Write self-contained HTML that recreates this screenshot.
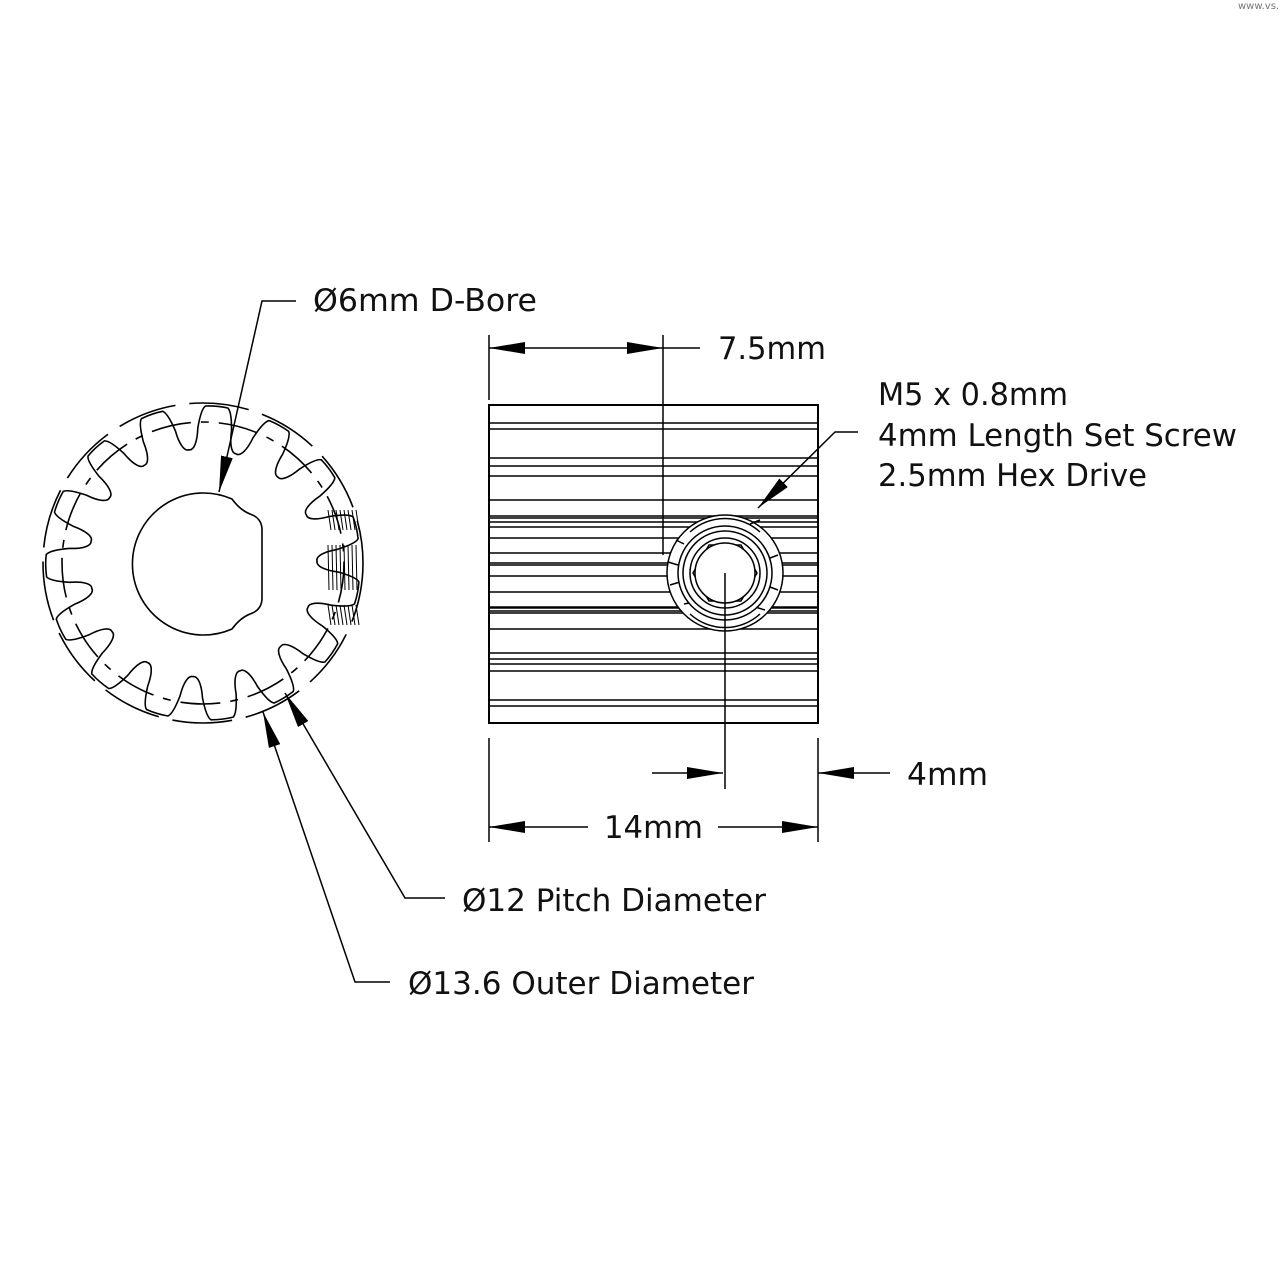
<!DOCTYPE html>
<html><head><meta charset="utf-8"><style>
html,body{margin:0;padding:0;background:#fff;}
svg{display:block;}
text{font-family:"DejaVu Sans","Liberation Sans",sans-serif;font-size:31px;fill:#111;}
</style></head><body>
<svg id="s" width="1280" height="1280" viewBox="0 0 1280 1280" xmlns="http://www.w3.org/2000/svg">
<defs>
<marker id="a" viewBox="0 0 36 12" refX="36" refY="6" markerWidth="36" markerHeight="12" markerUnits="userSpaceOnUse" orient="auto"><path d="M0,0 L36,6 L0,12 Z" fill="#000"/></marker>
</defs>
<text x="1238" y="9" style="font-size:10px;fill:#777">www.vs.1</text>
<g id="gear" fill="none" stroke="#000" stroke-width="1.6"></g>
<g fill="none" stroke="#000" stroke-width="1.5">
<rect x="489" y="405" width="329" height="318" stroke-width="2"/>
<g id="hl"></g>
<circle cx="725" cy="573" r="58" fill="#fff"/>
<path d="M676,540 l8,4 M668,562 l10,3 M670,585 l10,-3 M684,604 l10,-2 M760,520 l-10,4 M765,610 l-10,-3 M778,555 l-8,3 M778,590 l-8,-3"/>
<path d="M690,614 A52,52 0 0 0 760,614 M690,532 A52,52 0 0 1 760,532"/>
<circle cx="725" cy="573" r="47" fill="#fff"/>
<circle cx="725" cy="573" r="42"/>
<circle cx="725" cy="573" r="35"/>
<polygon points="757,573 741,545 709,545 693,573 709,601 741,601"/>
<circle cx="725" cy="573" r="30" fill="#fff"/>
</g>
<g fill="none" stroke="#000" stroke-width="1.5">
<line x1="489" y1="335" x2="489" y2="400"/>
<line x1="663" y1="335" x2="663" y2="555"/>
<line x1="575" y1="348" x2="489" y2="348" marker-end="url(#a)"/>
<line x1="575" y1="348" x2="663" y2="348" marker-end="url(#a)"/>
<line x1="663" y1="348" x2="700" y2="348"/>
<line x1="489" y1="738" x2="489" y2="842"/>
<line x1="818" y1="738" x2="818" y2="842"/>
<line x1="725" y1="573" x2="725" y2="789"/>
<line x1="588" y1="827" x2="489" y2="827" marker-end="url(#a)"/>
<line x1="718" y1="827" x2="818" y2="827" marker-end="url(#a)"/>
<line x1="652" y1="773" x2="723" y2="773" marker-end="url(#a)"/>
<line x1="890" y1="773" x2="818" y2="773" marker-end="url(#a)"/>
<polyline points="296,301 262,301 219,492" marker-end="url(#a)"/>
<polyline points="858,432 835,432 758,508" marker-end="url(#a)"/>
<polyline points="445,898 405,898 285,693" marker-end="url(#a)"/>
<polyline points="390,982 355,982 263,712" marker-end="url(#a)"/>
</g>
<text x="313" y="311" textLength="224" lengthAdjust="spacingAndGlyphs">Ø6mm D-Bore</text>
<text x="718" y="359" textLength="108" lengthAdjust="spacingAndGlyphs">7.5mm</text>
<text x="878" y="405" textLength="190" lengthAdjust="spacingAndGlyphs">M5 x 0.8mm</text>
<text x="878" y="446" textLength="359" lengthAdjust="spacingAndGlyphs">4mm Length Set Screw</text>
<text x="878" y="486" textLength="269" lengthAdjust="spacingAndGlyphs">2.5mm Hex Drive</text>
<text x="907" y="785" textLength="81" lengthAdjust="spacingAndGlyphs">4mm</text>
<text x="604" y="838" textLength="99" lengthAdjust="spacingAndGlyphs">14mm</text>
<text x="462" y="911" textLength="304" lengthAdjust="spacingAndGlyphs">Ø12 Pitch Diameter</text>
<text x="408" y="994" textLength="346" lengthAdjust="spacingAndGlyphs">Ø13.6 Outer Diameter</text>
</svg>
<script>
(function(){
var NS="http://www.w3.org/2000/svg";
function el(p,t,a){var e=document.createElementNS(NS,t);for(var k in a)e.setAttribute(k,a[k]);p.appendChild(e);return e;}
var hl=document.getElementById('hl');
[423,429,458,466,476,500,516,518,522,527,538,553,563,565,576,592,607,608,611,613,629,653,659,664,671,700,706].forEach(function(y){el(hl,'line',{x1:489,x2:818,y1:y,y2:y});});
var g=document.getElementById('gear');
var cx=203,cy=563;
el(g,'circle',{cx:cx,cy:cy,r:160,'stroke-dasharray':'60 14'});
el(g,'circle',{cx:cx,cy:cy,r:141,'stroke-dasharray':'40 10 8 10'});
var N=15,s=2*Math.PI/N,rt=157,rr=117,d="";
function P(r,t){return (cx+r*Math.cos(t)).toFixed(1)+","+(cy+r*Math.sin(t)).toFixed(1);}
for(var k=0;k<N;k++){
 var c=(-85*Math.PI/180)+k*s;
 if(k==0) d="M"+P(rt,c-0.17*s);
 d+=" Q"+P(rt+1,c)+" "+P(rt,c+0.17*s);
 d+=" Q"+P(rt-3,c+0.24*s)+" "+P(rr+18,c+0.3*s);
 d+=" C"+P(rr+4,c+0.32*s)+" "+P(rr-4,c+0.4*s)+" "+P(rr-3,c+0.5*s);
 var n=c+s;
 d+=" C"+P(rr-4,n-0.4*s)+" "+P(rr+4,n-0.32*s)+" "+P(rr+18,n-0.3*s);
 d+=" Q"+P(rt-3,n-0.24*s)+" "+P(rt,n-0.17*s);
}
el(g,'path',{d:d+"Z"});
el(g,'path',{d:"M262,530 Q262,518 250,514 Q240,510 232,499 A71,71 0 1 0 232,629 Q240,618 250,614 Q262,610 262,598 Z"});
var h="";for(var x=328;x<360;x+=4){h+="M"+x+",510 L"+(x+3)+",530 M"+x+",545 L"+(x+1)+",590 M"+x+",605 L"+(x+3)+",625 ";}
el(g,'path',{d:h,'stroke-width':1});
})();
</script>
</body></html>
